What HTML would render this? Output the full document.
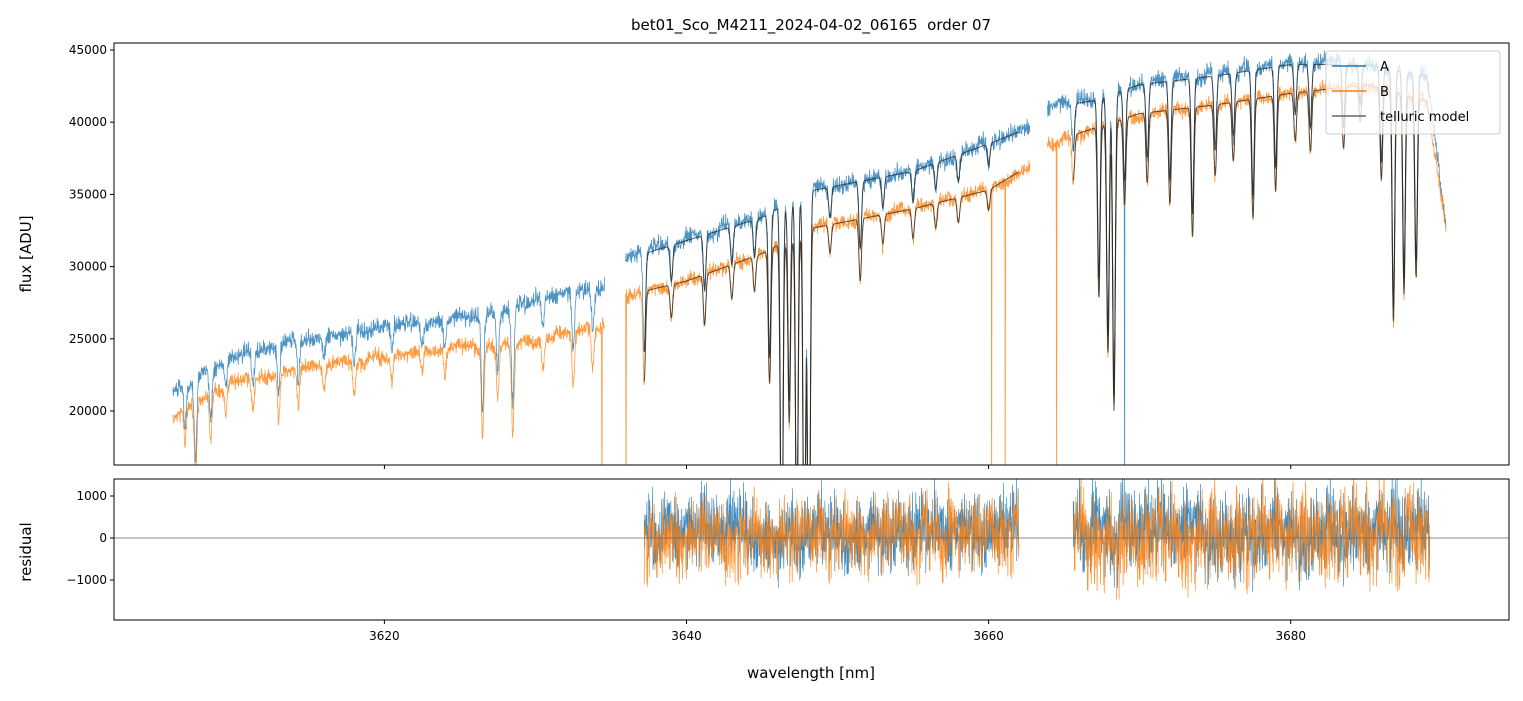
<!DOCTYPE html>
<html><head><meta charset="utf-8"><style>
body{margin:0;background:#fff;font-family:"Liberation Sans","DejaVu Sans",sans-serif}
svg text{font-family:"DejaVu Sans","Liberation Sans",sans-serif}
</style></head><body>
<svg id="c" width="1523" height="696" xmlns="http://www.w3.org/2000/svg"></svg>
<script>
// ---- data ----
const contA_w=[3606,3610,3615,3620,3625,3628,3631,3634.5,3636,3640,3645,3648,3655,3660,3662.7,3664,3667,3670,3675,3680,3685,3689,3690.3];
const contA_f=[21200,23600,25000,25800,26400,26800,27900,28500,30500,31800,33400,35200,36600,38500,39600,41000,41500,42600,43200,44000,44000,43200,32500];
const contB_w=[3606,3610,3615,3620,3625,3630,3634.5,3636,3640,3645,3648,3655,3660,3662.7,3664,3667,3670,3675,3680,3685,3689,3690.3];
const contB_f=[19600,22000,23000,23700,24400,24900,26000,28000,29000,30900,32600,34000,35300,37000,38500,39600,40600,41200,42000,42600,41500,32500];
const lineW=[3606.8,3607.5,3608.5,3609.5,3611.3,3613,3614.3,3616,3618,3620.5,3622.5,3624,3626.5,3627.5,3628.5,3630.5,3632.5,3633.8,3637.2,3639,3641.2,3643,3644.5,3645.5,3646.3,3646.8,3647.3,3647.8,3648.1,3649.5,3651.5,3653,3655,3656.5,3658,3660,3665.6,3667.3,3667.9,3668.3,3669,3670.5,3672,3673.5,3675,3676.2,3677.5,3679,3680.3,3681.3,3683.5,3684.6,3686,3686.8,3687.5,3688.3];
const lineD=[0.12,0.25,0.15,0.08,0.1,0.15,0.12,0.06,0.1,0.08,0.06,0.08,0.25,0.15,0.25,0.08,0.15,0.1,0.22,0.08,0.12,0.08,0.08,0.3,0.8,0.4,0.7,0.8,0.9,0.06,0.13,0.06,0.06,0.05,0.05,0.04,0.08,0.3,0.4,0.5,0.15,0.12,0.16,0.22,0.12,0.1,0.2,0.16,0.08,0.1,0.1,0.06,0.15,0.38,0.33,0.3];
const spikeA=[3669.0];
const spikeB=[3634.4,3636.0,3660.2,3661.1,3662.8,3664.5];
const jitter=[0.4,-0.6,1.2,-0.2,0.8,-1.4,0.3,0.9,-0.8,0.1,1.5,-0.5,-1.1,0.6,0.2,-0.3,1.0,-0.9,0.5,-1.6,0.7,0.0,-0.4,1.3,-0.7,0.2,0.9,-1.2,0.4,-0.1,1.1,-0.6,0.3,-1.0,0.8,-0.2,0.6,-1.3,1.4,-0.8,0.1,0.5,-0.4];
const resSeg=[[3637.2,3662.0],[3665.6,3689.2]];
const resAmpA=[750,850];
const resAmpB=[650,800];
const xTicks=[3620,3640,3660,3680];
const yTicks=[20000,25000,30000,35000,40000,45000];
const rTicks=[-1000,0,1000];
// ---- axes ----
const L=114,R=1509,T1=43,B1=465,T2=479,B2=620;
const x0=3602.1,x1=3694.45;
const X=w=>L+(w-x0)/(x1-x0)*(R-L);
const Y=f=>411-(f-20000)*0.01444;
const YR=r=>538-r*0.042;
const svg=document.getElementById('c');const NS='http://www.w3.org/2000/svg';
function el(t,a,p){const e=document.createElementNS(NS,t);for(const k in a)e.setAttribute(k,a[k]);(p||svg).appendChild(e);return e;}
function interp(ws,fs,w){for(let i=0;i<ws.length-1;i++){if(w>=ws[i]&&w<=ws[i+1]){return fs[i]+(fs[i+1]-fs[i])*(w-ws[i])/(ws[i+1]-ws[i]);}}return null;}
function absorb(w){let m=1;for(let i=0;i<lineW.length;i++){const d=(w-lineW[i])/0.12;m*=1-lineD[i]*Math.exp(-d*d);}return m;}
const N=jitter.length;
function tex(k,o){return jitter[(k*k+o)%N]*0.6+jitter[((k/7|0)+k*3+o)%N]*0.5+jitter[((k/31|0)*5+o)%N]*0.3;}
const defs=el('defs',{});
const cp=el('clipPath',{id:'cp1'},defs);el('rect',{x:L,y:T1,width:R-L,height:B1-T1},cp);
const cp2=el('clipPath',{id:'cp2'},defs);el('rect',{x:L,y:T2,width:R-L,height:B2-T2},cp2);
const g1=el('g',{'clip-path':'url(#cp1)'});

function inGap(w){return (w>3634.6&&w<3635.95)||(w>3662.75&&w<3663.9);}
function spec(ws,fs,spikes,noiseAmp,off,color,name){
  let d='';let k=off;let pen=false;
  for(let w=3606.0;w<=3690.3;w+=0.025){
    if(inGap(w)){pen=false;continue;}
    let c=interp(ws,fs,w);if(c===null)continue;
    let f=c*absorb(w)+tex(k,off)*noiseAmp;k++;
    for(const s of spikes){if(Math.abs(w-s)<0.02)f=10000;}
    d+=(pen?'L':'M')+X(w).toFixed(1)+' '+Y(f).toFixed(1);pen=true;
  }
  const p=el('path',{d:d,fill:'none',stroke:color,'stroke-width':0.8,opacity:0.8},g1);
  
}
spec(contA_w,contA_f,spikeA,550,0,'#1f77b4','series-a');
spec(contB_w,contB_f,spikeB,480,11,'#ff7f0e','series-b');
function model(ws,fs,name){
  let d='';
  for(const s of resSeg){let pen=false;for(let w=s[0];w<=s[1];w+=0.03){let f=interp(ws,fs,w)*absorb(w);d+=(pen?'L':'M')+X(w).toFixed(1)+' '+Y(f).toFixed(1);pen=true;}}
  const p=el('path',{d:d,fill:'none',stroke:'#222','stroke-width':1,opacity:0.75},g1);
  
}
model(contA_w,contA_f,'telluric-model-a');
model(contB_w,contB_f,'telluric-model-b');
// residuals
const g2=el('g',{'clip-path':'url(#cp2)'});

function resid(amps,off,color,name){
  let d='';let k=off;
  resSeg.forEach((s,i)=>{let pen=false;for(let w=s[0];w<=s[1];w+=0.02){const r=tex(k,off)*amps[i];k++;d+=(pen?'L':'M')+X(w).toFixed(1)+' '+YR(r).toFixed(1);pen=true;}});
  const p=el('path',{d:d,fill:'none',stroke:color,'stroke-width':0.7,opacity:0.85},g2);
  
}
resid(resAmpA,0,'#1f77b4','residual-a');
resid(resAmpB,17,'#ff7f0e','residual-b');
el('line',{x1:L,x2:R,y1:YR(0),y2:YR(0),stroke:'#666','stroke-width':0.7},g2);
// frames & ticks
[[T1,B1],[T2,B2]].forEach((tb,i)=>{const r=el('rect',{x:L,y:tb[0],width:R-L,height:tb[1]-tb[0],fill:'none',stroke:'#000','stroke-width':1});});
xTicks.forEach(v=>{const x=X(v);el('line',{x1:x,x2:x,y1:B1,y2:B1+4,stroke:'#000'});el('line',{x1:x,x2:x,y1:B2,y2:B2+4,stroke:'#000'});
 const t=el('text',{x:x,y:B2+20,'font-size':12,'text-anchor':'middle'});t.textContent=v;});
yTicks.forEach(v=>{const y=Y(v);el('line',{x1:L-4,x2:L,y1:y,y2:y,stroke:'#000'});const t=el('text',{x:L-7,y:y+4,'font-size':12,'text-anchor':'end'});t.textContent=v;});
rTicks.forEach(v=>{const y=YR(v);el('line',{x1:L-4,x2:L,y1:y,y2:y,stroke:'#000'});const t=el('text',{x:L-7,y:y+4,'font-size':12,'text-anchor':'end'});t.textContent=v===-1000?'−1000':v;});
function txt(s,a,name){const t=el('text',a);t.textContent=s;}
txt('bet01_Sco_M4211_2024-04-02_06165\u00a0 order 07',{x:811,y:30,'font-size':15,'text-anchor':'middle'},'chart-title');
txt('wavelength [nm]',{x:811,y:678,'font-size':15,'text-anchor':'middle'},'x-axis-title');
txt('flux [ADU]',{x:31,y:254,'font-size':15,'text-anchor':'middle',transform:'rotate(-90 31 254)'},'y-axis-title');
txt('residual',{x:31,y:552,'font-size':15,'text-anchor':'middle',transform:'rotate(-90 31 552)'},'residual-axis-title');
// legend
const lg=el('g',{});
el('rect',{x:1326,y:51,width:174,height:83,rx:3,fill:'#fff','fill-opacity':0.8,stroke:'#ccc'},lg);
[['A','#1f77b4'],['B','#ff7f0e'],['telluric model','#666']].forEach((e,i)=>{const y=66+i*25;
 const ln=el('line',{x1:1332,x2:1366,y1:y,y2:y,stroke:e[1],'stroke-width':1.5},lg);
 const t=el('text',{x:1380,y:y+5,'font-size':13},lg);t.textContent=e[0];});
</script>
</body></html>
